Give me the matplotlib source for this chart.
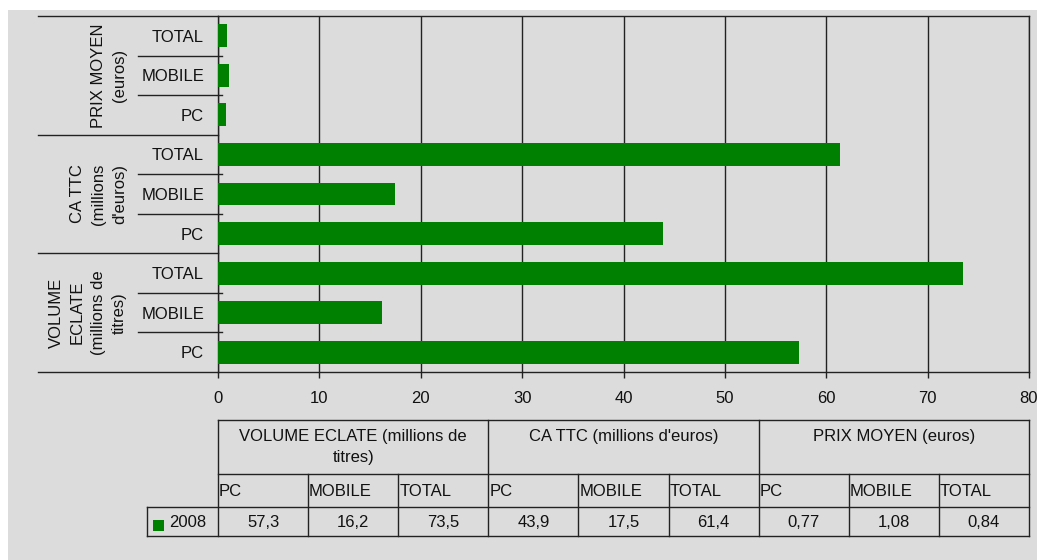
import matplotlib
matplotlib.use("Agg")
import matplotlib.pyplot as plt
from matplotlib.patches import Rectangle
from matplotlib.lines import Line2D

plt.rcParams['font.family'] = ['Liberation Sans', 'DejaVu Sans']

groups = ["VOLUME ECLATE (millions de titres)", "CA TTC (millions d'euros)", "PRIX MOYEN (euros)"]
group_axis_labels = ["VOLUME\nECLATE\n(millions de\ntitres)", "CA TTC\n(millions\nd'euros)", "PRIX MOYEN\n(euros)"]
table_group_labels = ["VOLUME ECLATE (millions de\ntitres)", "CA TTC (millions d'euros)", "PRIX MOYEN (euros)"]
subcats = ["PC", "MOBILE", "TOTAL"]
series_name = "2008"
values = [57.3, 16.2, 73.5, 43.9, 17.5, 61.4, 0.77, 1.08, 0.84]
value_labels = ["57,3", "16,2", "73,5", "43,9", "17,5", "61,4", "0,77", "1,08", "0,84"]
xticks = [0, 10, 20, 30, 40, 50, 60, 70, 80]

W, H = 1037, 560
BG = "#dcdcdc"
GREEN = "#008000"
LINE = "#222222"
TXT = "#111111"
FS = 12

fig = plt.figure(figsize=(W / 100, H / 100), dpi=100)
fig.patch.set_facecolor("white")

def fx(px):
    return px / W

def fy(py):
    return 1 - py / H

# gray background
fig.add_artist(Rectangle((fx(8), 0), 1 - fx(8), fy(10), transform=fig.transFigure,
                         facecolor=BG, edgecolor="none", zorder=-10))

L, R, T, B = 218, 1029, 16, 372
ax = fig.add_axes([fx(L), fy(B), fx(R - L), (B - T) / H])
ax.set_facecolor(BG)
ax.patch.set_alpha(0)

n = len(values)
ypos = list(range(n))
ax.barh(ypos, values, height=0.58, color=GREEN, zorder=3)
ax.set_xlim(0, 80)
ax.set_ylim(-0.5, n - 0.5)
ax.set_xticks(xticks)
ax.set_xticklabels([str(t) for t in xticks], fontsize=FS, color=TXT)
ax.tick_params(axis="x", length=4, width=1, color=LINE, pad=10)
ax.set_yticks(ypos)
ax.set_yticklabels([subcats[i % 3] for i in range(n)], fontsize=FS, color=TXT)
ax.tick_params(axis="y", direction="in", length=3, width=1, color=LINE, pad=10)
ax.grid(axis="x", color=LINE, linewidth=1, zorder=0)
for s in ["top", "left", "right", "bottom"]:
    ax.spines[s].set_color(LINE)
    ax.spines[s].set_linewidth(1)

# category separators on the left
row_h = (B - T) / n
for k in range(n + 1):
    py = B - k * row_h
    if k % 3 == 0:
        x0 = 38
        x1 = L
    else:
        x0 = 138
        x1 = L + 4
    fig.add_artist(Line2D([fx(x0), fx(x1)], [fy(py), fy(py)], transform=fig.transFigure,
                          color=LINE, linewidth=1))

# group labels
for g in range(3):
    yc = B - (g * 3 + 1.5) * row_h
    fig.text(fx(127), fy(yc), group_axis_labels[g], rotation=90, ha="right", va="center",
             multialignment="center", fontsize=FS, color=TXT, linespacing=1.5)

# data table
cw = (R - L) / 9
r0, r1, r2, r3 = 420, 474, 507, 536
lw = 1
def hline(x0, x1, y):
    fig.add_artist(Line2D([fx(x0), fx(x1)], [fy(y), fy(y)], transform=fig.transFigure,
                          color=LINE, linewidth=lw))
def vline(x, y0, y1):
    fig.add_artist(Line2D([fx(x), fx(x)], [fy(y0), fy(y1)], transform=fig.transFigure,
                          color=LINE, linewidth=lw))

hline(L, R, r0)
hline(L, R, r1)
hline(147, R, r2)
hline(147, R, r3)
vline(147, r2, r3)
for c in range(10):
    x = L + c * cw
    if c % 3 == 0:
        vline(x, r0, r3)
    else:
        vline(x, r1, r3)

for g in range(3):
    xc = L + (g * 3 + 1.5) * cw
    fig.text(fx(xc), fy(429), table_group_labels[g], ha="center", va="top",
             multialignment="center", fontsize=FS, color=TXT, linespacing=1.5)
for c in range(9):
    x = L + c * cw
    fig.text(fx(x + 1), fy((r1 + r2) / 2 + 1), subcats[c % 3], ha="left", va="center",
             fontsize=FS, color=TXT)
    fig.text(fx(x + cw / 2), fy((r2 + r3) / 2 + 1), value_labels[c], ha="center", va="center",
             fontsize=FS, color=TXT)

fig.add_artist(Rectangle((fx(153), fy(531)), fx(11), 11 / H, transform=fig.transFigure,
                         facecolor=GREEN, edgecolor="none"))
fig.text(fx(169), fy((r2 + r3) / 2 + 1), series_name, ha="left", va="center",
         fontsize=FS, color=TXT)

fig.savefig("out.png", dpi=100, facecolor=fig.get_facecolor())
